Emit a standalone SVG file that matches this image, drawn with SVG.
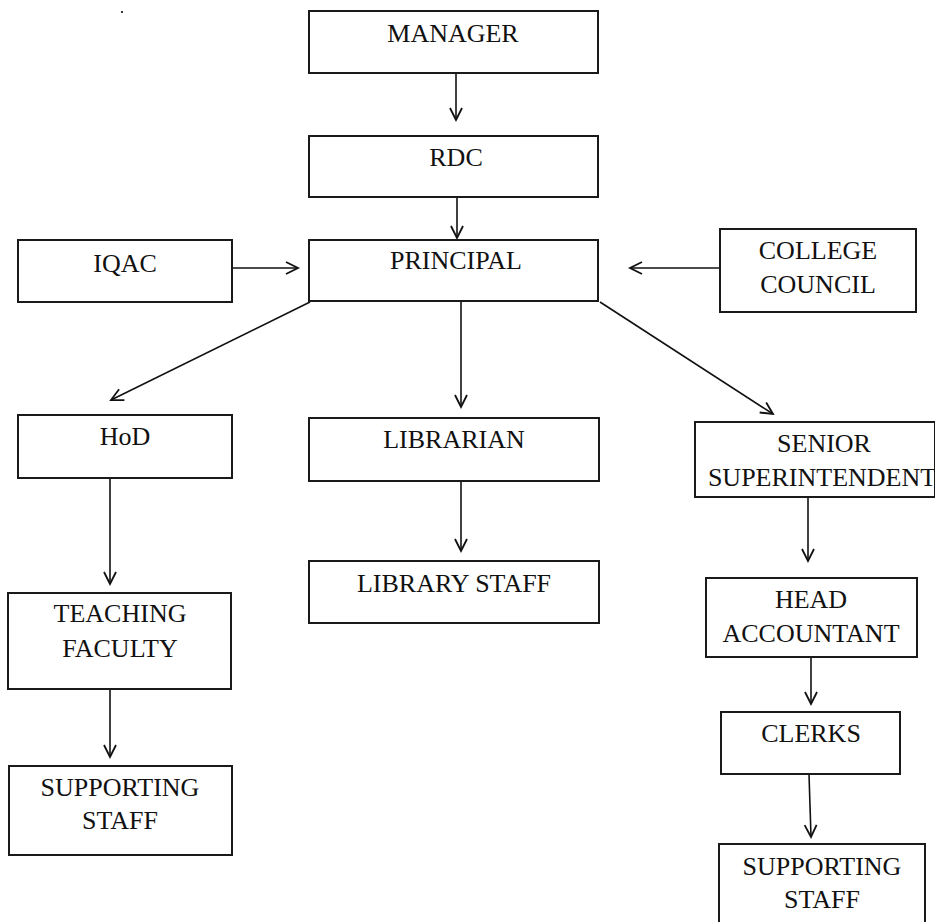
<svg xmlns="http://www.w3.org/2000/svg" width="935" height="922" viewBox="0 0 935 922">
<style>
.box{fill:#fff;stroke:#1a1a1a;stroke-width:2}
.t{font-family:"Liberation Serif","Times New Roman",serif;font-size:26px;fill:#111;text-anchor:middle}
.c{stroke:#111;stroke-width:1.6;fill:none;marker-end:url(#ah)}
</style>
<defs>
<marker id="ah" markerUnits="userSpaceOnUse" markerWidth="20" markerHeight="20" refX="0" refY="0" viewBox="-15 -10 20 20" orient="auto">
<path d="M-12,-6 L0,0 L-12,6" fill="none" stroke="#111" stroke-width="1.8"/>
</marker>
</defs>
<rect x="121" y="11" width="2" height="2" fill="#333"/>
<g id="connectors">
<line class="c" x1="456" y1="73" x2="456" y2="120"/>
<line class="c" x1="457" y1="197" x2="457" y2="238"/>
<line class="c" x1="232" y1="268" x2="298" y2="268"/>
<line class="c" x1="720" y1="268" x2="630" y2="268"/>
<line class="c" x1="310" y1="302" x2="111" y2="400"/>
<line class="c" x1="461" y1="302" x2="461" y2="407"/>
<line class="c" x1="600" y1="302" x2="773" y2="414"/>
<line class="c" x1="110" y1="478" x2="110" y2="584"/>
<line class="c" x1="461" y1="481" x2="461" y2="551"/>
<line class="c" x1="808" y1="497" x2="808" y2="561"/>
<line class="c" x1="110" y1="689" x2="110" y2="757"/>
<line class="c" x1="811" y1="657" x2="811" y2="704"/>
<line class="c" x1="809" y1="774" x2="811" y2="837"/>
</g>
<g id="manager"><rect class="box" x="309" y="11" width="289" height="62"/><text class="t" x="453" y="42">MANAGER</text></g>
<g id="rdc"><rect class="box" x="309" y="136" width="289" height="61"/><text class="t" x="456" y="166">RDC</text></g>
<g id="principal"><rect class="box" x="309" y="240" width="289" height="61"/><text class="t" x="456" y="269">PRINCIPAL</text></g>
<g id="iqac"><rect class="box" x="18" y="240" width="214" height="62"/><text class="t" x="125" y="272">IQAC</text></g>
<g id="college-council"><rect class="box" x="720" y="229" width="196" height="83"/><text class="t" x="818" y="259">COLLEGE</text><text class="t" x="818" y="293">COUNCIL</text></g>
<g id="hod"><rect class="box" x="18" y="415" width="214" height="63"/><text class="t" x="125" y="445">HoD</text></g>
<g id="librarian"><rect class="box" x="309" y="418" width="290" height="63"/><text class="t" x="454" y="448">LIBRARIAN</text></g>
<g id="senior-superintendent"><rect class="box" x="695" y="422" width="240" height="75"/><text class="t" x="824" y="452">SENIOR</text><text class="t" x="822" y="486">SUPERINTENDENT</text></g>
<g id="library-staff"><rect class="box" x="309" y="561" width="290" height="62"/><text class="t" x="454" y="592">LIBRARY STAFF</text></g>
<g id="head-accountant"><rect class="box" x="706" y="578" width="211" height="79"/><text class="t" x="811" y="608">HEAD</text><text class="t" x="811" y="642">ACCOUNTANT</text></g>
<g id="teaching-faculty"><rect class="box" x="8" y="593" width="223" height="96"/><text class="t" x="120" y="622">TEACHING</text><text class="t" x="120" y="657">FACULTY</text></g>
<g id="supporting-staff-left"><rect class="box" x="9" y="766" width="223" height="89"/><text class="t" x="120" y="796">SUPPORTING</text><text class="t" x="120" y="829">STAFF</text></g>
<g id="clerks"><rect class="box" x="721" y="712" width="179" height="62"/><text class="t" x="811" y="742">CLERKS</text></g>
<g id="supporting-staff-right"><rect class="box" x="719" y="844" width="206" height="90"/><text class="t" x="822" y="875">SUPPORTING</text><text class="t" x="822" y="908">STAFF</text></g>
</svg>
